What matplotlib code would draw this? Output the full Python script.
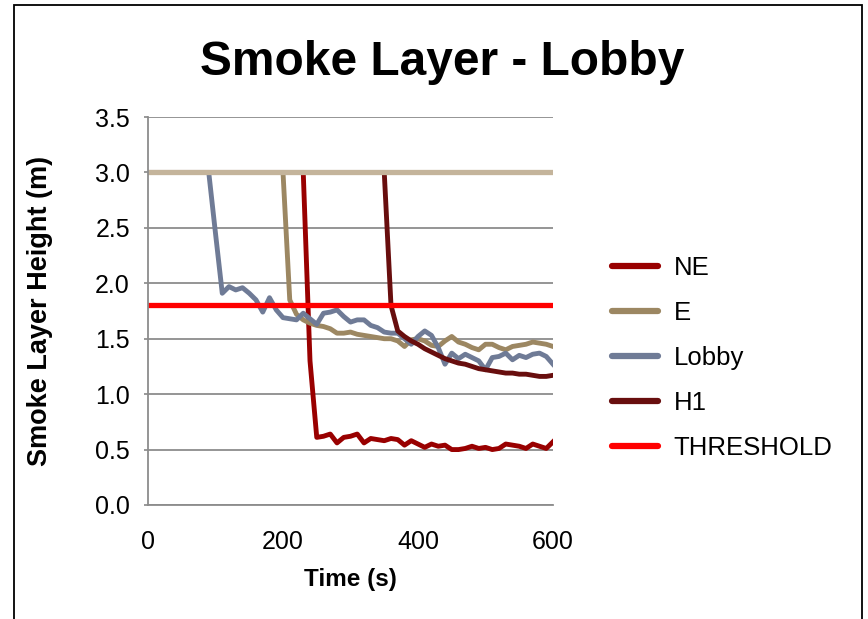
# Smoke_Layer_Plot.py
# Smoke layer height in the lobby, several detector locations

# ----------------------------------------------------------------------
#  Imports
# ----------------------------------------------------------------------
import matplotlib
matplotlib.use('Agg')
import matplotlib.pyplot as plt
from matplotlib.patches import Rectangle
import numpy as np

# ----------------------------------------------------------------------
#  Data (10 s steps)
# ----------------------------------------------------------------------
time = list(range(0, 610, 10))

ne = [3.0]*24 + [1.30, 0.61, 0.62, 0.64, 0.56, 0.61, 0.62, 0.64, 0.56, 0.60,
                 0.59, 0.58, 0.60, 0.59, 0.54, 0.58, 0.55, 0.52, 0.55, 0.53,
                 0.54, 0.50, 0.50, 0.51, 0.53, 0.51, 0.52, 0.50, 0.51, 0.55,
                 0.54, 0.53, 0.51, 0.55, 0.53, 0.51, 0.57]

e = [3.0]*21 + [1.85, 1.72, 1.67, 1.64, 1.62, 1.61, 1.59, 1.55, 1.55, 1.56,
                1.54, 1.53, 1.52, 1.51, 1.50, 1.50, 1.48, 1.43, 1.49, 1.50,
                1.48, 1.44, 1.43, 1.48, 1.52, 1.47, 1.45, 1.42, 1.40, 1.45,
                1.45, 1.42, 1.40, 1.43, 1.44, 1.45, 1.47, 1.46, 1.45, 1.43]

lobby = [3.0]*10 + [2.45, 1.91, 1.97, 1.94, 1.96, 1.91, 1.85, 1.74, 1.87, 1.76,
                    1.69, 1.68, 1.67, 1.73, 1.68, 1.63, 1.73, 1.74, 1.76, 1.70,
                    1.65, 1.67, 1.67, 1.62, 1.60, 1.56, 1.55, 1.55, 1.50, 1.45,
                    1.52, 1.57, 1.53, 1.42, 1.27, 1.37, 1.32, 1.36, 1.33, 1.30,
                    1.22, 1.33, 1.34, 1.37, 1.31, 1.35, 1.33, 1.36, 1.37, 1.34,
                    1.27]

h1 = [3.0]*36 + [1.80, 1.57, 1.52, 1.48, 1.45, 1.41, 1.38, 1.35, 1.32, 1.30,
                 1.28, 1.27, 1.25, 1.23, 1.22, 1.21, 1.20, 1.19, 1.19, 1.18,
                 1.18, 1.17, 1.16, 1.16, 1.17]

ceiling   = [3.0]*len(time)
threshold = [1.8]*len(time)

series_names  = ['NE', 'E', 'Lobby', 'H1']
series_colors = ['#990000', '#9C8762', '#6F7B96', '#680E0E']

y_ticks = [0.0, 0.5, 1.0, 1.5, 2.0, 2.5, 3.0, 3.5]
x_ticks = [0, 200, 400, 600]

# ----------------------------------------------------------------------
#  Plot
# ----------------------------------------------------------------------
plt.rcParams['font.family'] = ['Liberation Sans', 'DejaVu Sans']

fig = plt.figure(figsize=(8.68, 6.19), dpi=100)
axes = fig.add_axes([148/868., 1 - 505/619., 405/868., 388/619.])

lw = 3.5
for vals, name, col in zip([ne, e, lobby, h1], series_names, series_colors):
	axes.plot(time, vals, color=col, lw=lw, label=name, solid_joinstyle='round')

axes.plot(time, ceiling, color='#C4B49B', lw=lw + 0.3)
axes.plot(time, threshold, color='#FF0000', lw=lw + 0.3, label='THRESHOLD')

axes.set_xlim(0, 600)
axes.set_ylim(0, 3.5)
axes.set_xticks(x_ticks)
axes.set_yticks(y_ticks)
axes.set_yticklabels(['%.1f' % v for v in y_ticks])
axes.tick_params(axis='both', labelsize=18, colors='#888888', labelcolor='black')
axes.tick_params(axis='x', length=0, pad=18)
axes.tick_params(axis='y', length=3, width=1.2, pad=10)
axes.grid(axis='y', color='#8C8C8C', lw=1.3)
axes.set_axisbelow(True)
for side in ['top', 'right']:
	axes.spines[side].set_visible(False)
for side in ['left', 'bottom']:
	axes.spines[side].set_color('#8C8C8C')
	axes.spines[side].set_linewidth(1.3)

axes.set_xlabel('Time (s)', fontsize=17.5, fontweight='bold', labelpad=10)
axes.set_ylabel('Smoke Layer Height (m)', fontsize=19.5, fontweight='bold', labelpad=30)

fig.text(0.509, 1 - 75/619., 'Smoke Layer - Lobby', fontsize=34.5,
         fontweight='bold', ha='center', va='baseline')

handles, labels = axes.get_legend_handles_labels()
leg = fig.legend(handles, labels, loc='center left', frameon=False,
                 bbox_to_anchor=(612/868., 1 - 358/619.), fontsize=18.5,
                 handlelength=1.8, handletextpad=0.6, labelspacing=0.82,
                 borderpad=0, borderaxespad=0)
for line in leg.get_lines():
	line.set_linewidth(4.5)
	line.set_solid_capstyle('round')

# outer chart frame
fig.patches.append(Rectangle((14/868., -0.05), 848/868., 1.05 - 5/619.,
                             transform=fig.transFigure, fill=False,
                             edgecolor='black', lw=1.3))

plt.savefig('out.png', dpi=100)
